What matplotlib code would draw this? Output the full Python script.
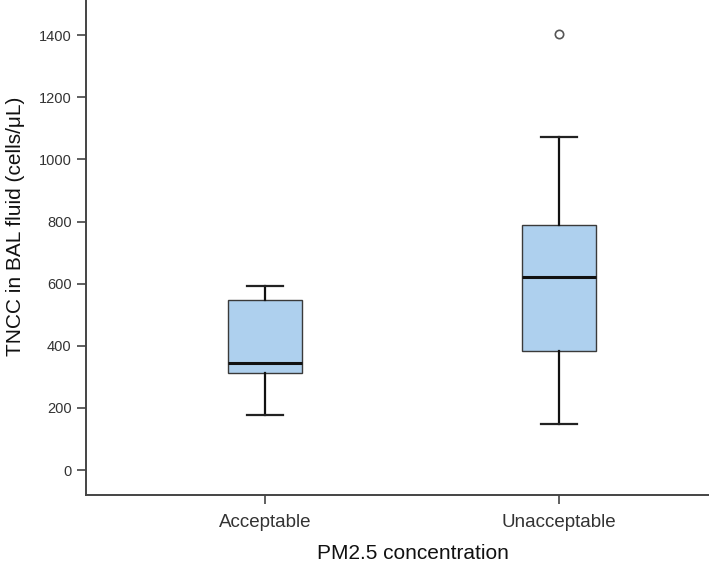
import matplotlib
matplotlib.use('agg')
import matplotlib.pyplot as plt
import numpy as np

# Data (cells/uL)
groups = ["Acceptable", "Unacceptable"]
whisk_lo = [176, 147]
q1 = [312, 384]
median = [344, 621]
q3 = [547, 790]
whisk_hi = [591, 1073]
outliers = [[], [1404]]

plt.rcParams['font.family'] = ['Liberation Sans', 'DejaVu Sans']

stats = []
for i, g in enumerate(groups):
    stats.append(dict(label=g, whislo=whisk_lo[i], q1=q1[i], med=median[i],
                      q3=q3[i], whishi=whisk_hi[i], fliers=outliers[i]))

fig = plt.figure(figsize=(7.09, 5.65), dpi=100)
ax = fig.add_axes([86 / 709, 70 / 565, 1 - 86 / 709, 1 - 70 / 565])

ax.bxp(stats, positions=[1, 2], widths=0.252, patch_artist=True,
       boxprops=dict(facecolor='#aed0ee', edgecolor='#3a3a3a', linewidth=1.0),
       medianprops=dict(color='#111111', linewidth=2.2),
       whiskerprops=dict(color='#111111', linewidth=1.6),
       capprops=dict(color='#222222', linewidth=1.6),
       capwidths=0.125,
       flierprops=dict(marker='o', markersize=6, markerfacecolor='white',
                       markeredgecolor='#555555', markeredgewidth=1.2))

ax.set_xlim(0.391, 2.51)
ax.set_ylim(-80, 1513)
ax.set_yticks(np.arange(0, 1401, 200))

for s in ['top', 'right']:
    ax.spines[s].set_visible(False)
for s in ['left', 'bottom']:
    ax.spines[s].set_color('#444444')
    ax.spines[s].set_linewidth(1.4)

ax.tick_params(axis='both', colors='#444444', labelcolor='#333333',
               length=6.5, width=1.2)
ax.tick_params(axis='y', pad=3.8, labelsize=10.5)
ax.tick_params(axis='x', pad=7, labelsize=13.5)

ax.set_ylabel("TNCC in BAL fluid (cells/μL)", fontsize=15, color='#111111')
ax.set_xlabel("PM2.5 concentration", fontsize=15, color='#111111')
ax.yaxis.set_label_coords(-0.098, 0.543)
ax.xaxis.set_label_coords(0.524, -0.099)

fig.savefig("out.png", dpi=100)
